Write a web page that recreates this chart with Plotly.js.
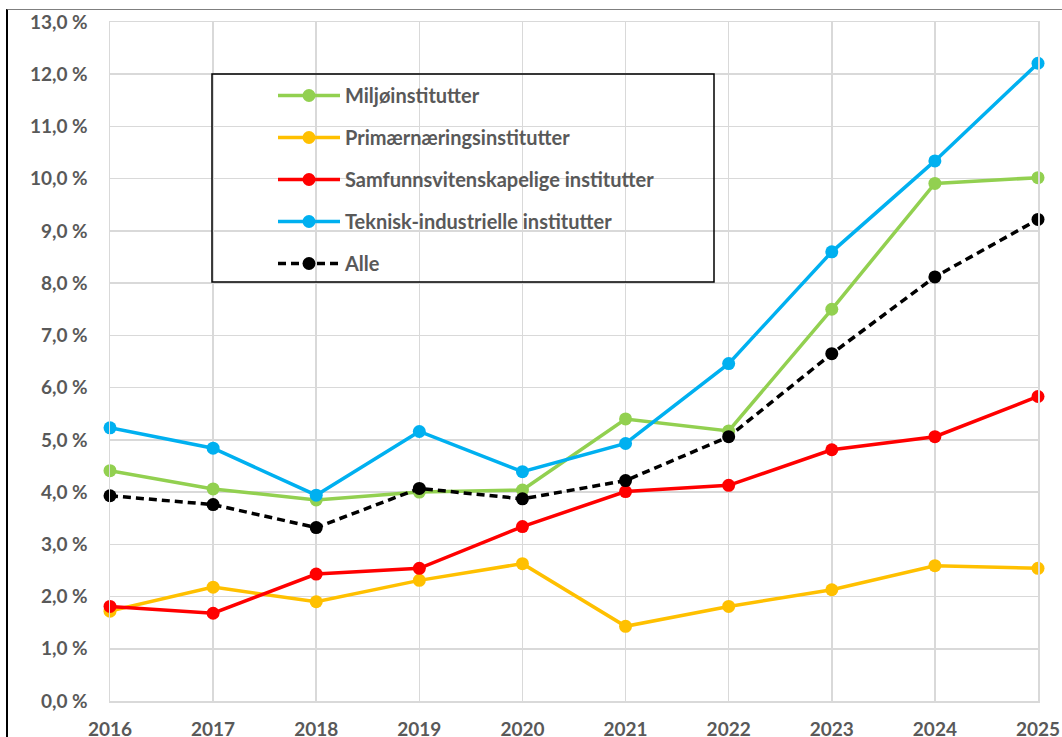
<!DOCTYPE html>
<html>
<head>
<meta charset="utf-8">
<script src="https://cdn.plot.ly/plotly-3.0.1.min.js"></script>
<style>
html,body{margin:0;padding:0;background:#fff;}
#wrap{position:relative;width:1062px;height:737px;overflow:hidden;}
#chart{position:absolute;left:0;top:0;width:1062px;height:737px;}
#frame{position:absolute;left:6px;top:9px;width:1062px;height:740px;border-left:2px solid #000;border-top:1.5px solid #7f7f7f;pointer-events:none;}
</style>
</head>
<body>
<div id="wrap"><div id="chart"></div><div id="frame"></div></div>
<script>
const years = [2016, 2017, 2018, 2019, 2020, 2021, 2022, 2023, 2024, 2025];
const seriesNames = ["Miljøinstitutter", "Primærnæringsinstitutter", "Samfunnsvitenskapelige institutter", "Teknisk-industrielle institutter", "Alle"];
const miljo = [4.41, 4.06, 3.85, 4.00, 4.04, 5.40, 5.17, 7.50, 9.91, 10.02];
const primaer = [1.72, 2.18, 1.90, 2.31, 2.63, 1.43, 1.81, 2.13, 2.59, 2.54];
const samfunn = [1.81, 1.68, 2.43, 2.54, 3.34, 4.01, 4.13, 4.81, 5.06, 5.83];
const teknisk = [5.23, 4.84, 3.94, 5.16, 4.39, 4.93, 6.46, 8.60, 10.34, 12.21];
const alle = [3.93, 3.76, 3.32, 4.07, 3.87, 4.22, 5.06, 6.65, 8.12, 9.22];
const colors = ["#92D050", "#FFC000", "#FF0000", "#00B0F0", "#000000"];

const data = [miljo, primaer, samfunn, teknisk, alle].map((vals, i) => ({
  x: years, y: vals, name: seriesNames[i], type: "scatter", mode: "lines+markers",
  legendgroup: "g" + i, cliponaxis: false,
  line: {color: colors[i], width: 3.5, dash: i === 4 ? "8px,5px" : "solid"},
  marker: {color: colors[i], size: 13}
}));

const fontFam = "Lato, 'Open Sans', sans-serif";
const tickFont = {family: fontFam, size: 19, color: "#595959", weight: "bold"};
const layout = {
  width: 1062, height: 737,
  margin: {l: 110, r: 24, t: 22, b: 36},
  paper_bgcolor: "#fff", plot_bgcolor: "#fff",
  separators: ", ",
  showlegend: true,
  legend: {
    x: (278 - 5 - 110) / 928, y: (701 - 76) / 679, xanchor: "left", yanchor: "top",
    bgcolor: "rgba(0,0,0,0)", borderwidth: 0,
    itemwidth: 62, tracegroupgap: 13,
    font: {family: fontFam, size: 20, color: "#595959", weight: "bold"}
  },
  xaxis: {
    range: [2016, 2025], tickvals: years, ticktext: years.map(String),
    showgrid: true, gridcolor: "#d9d9d9", gridwidth: 1.5,
    showline: true, linecolor: "#d9d9d9", linewidth: 1.5, mirror: true,
    zeroline: false, ticks: "", ticklabelstandoff: 11,
    tickfont: tickFont
  },
  yaxis: {
    range: [0, 13], dtick: 1, tick0: 0, tickformat: ".1f", ticksuffix: " %",
    showgrid: true, gridcolor: "#d9d9d9", gridwidth: 1.5,
    showline: true, linecolor: "#d9d9d9", linewidth: 1.5, mirror: true,
    zeroline: false, ticks: "", ticklabelstandoff: 17,
    tickfont: tickFont
  },
  shapes: [{
    type: "rect", xref: "paper", yref: "paper",
    x0: (212 - 110) / 928, x1: (714 - 110) / 928,
    y0: (701 - 282) / 679, y1: (701 - 74) / 679,
    line: {color: "#000", width: 1.5}, fillcolor: "rgba(0,0,0,0)", layer: "above"
  }]
};
Plotly.newPlot("chart", data, layout, {displayModeBar: false, staticPlot: true});
</script>
</body>
</html>
